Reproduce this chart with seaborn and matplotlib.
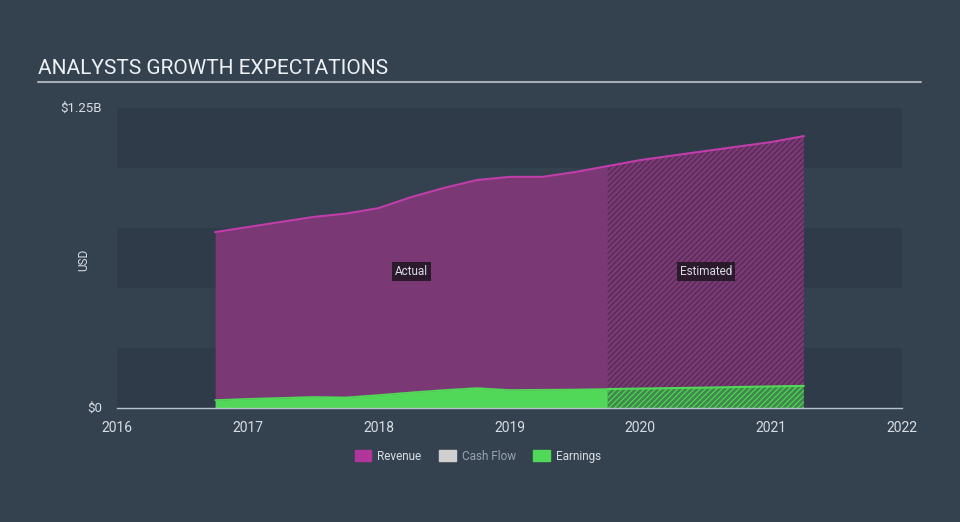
import matplotlib
matplotlib.use("Agg")
import matplotlib.pyplot as plt
import seaborn as sns
import pandas as pd
from matplotlib.patches import Patch

# values in billions USD, x in fractional years
act_years = [2016.75, 2017.0, 2017.25, 2017.5, 2017.75, 2018.0, 2018.25, 2018.5, 2018.75, 2019.0, 2019.25, 2019.5, 2019.75]
act_revenue = [0.733, 0.754, 0.775, 0.796, 0.810, 0.833, 0.879, 0.917, 0.950, 0.963, 0.963, 0.983, 1.008]
act_earnings = [0.033, 0.038, 0.042, 0.046, 0.044, 0.054, 0.065, 0.075, 0.083, 0.075, 0.076, 0.077, 0.079]

est_years = [2019.75, 2020.0, 2020.5, 2021.0, 2021.25]
est_revenue = [1.008, 1.033, 1.071, 1.108, 1.133]
est_earnings = [0.079, 0.081, 0.085, 0.090, 0.092]

year_ticks = [2016, 2017, 2018, 2019, 2020, 2021, 2022]

BG = '#344250'
BAND = '#2f3b49'
REV_FILL = '#7a3874'
REV_LINE = '#c13da9'
EARN = '#52d858'
TXT = '#d8dde3'

sns.set_theme(style='white')
plt.rcParams['font.family'] = ['Roboto', 'DejaVu Sans']
plt.rcParams['hatch.linewidth'] = 0.8

fig = plt.figure(figsize=(9.6, 5.22), dpi=100, facecolor=BG)
ax = fig.add_axes([117/960, 1-408/522, 785/960, 300/522])
ax.set_facecolor(BG)

# alternating bands
for i in range(5):
    if i % 2 == 0:
        ax.axhspan(i*0.25, (i+1)*0.25, color=BAND, lw=0, zorder=0)

act = pd.DataFrame({'year': act_years, 'revenue': act_revenue, 'earnings': act_earnings})
est = pd.DataFrame({'year': est_years, 'revenue': est_revenue, 'earnings': est_earnings})

ax.fill_between(act['year'], 0, act['revenue'], color=REV_FILL, lw=0, zorder=1)
ax.fill_between(act['year'], 0, act['earnings'], color=EARN, lw=0, zorder=2)
ax.fill_between(est['year'], 0, est['revenue'], facecolor=REV_FILL, edgecolor='#4e2a50', hatch='//////', lw=0, zorder=1)
ax.fill_between(est['year'], 0, est['earnings'], facecolor='#3f8a4a', edgecolor='#52d858', hatch='//////', lw=0, zorder=2)

sns.lineplot(data=act, x='year', y='revenue', color=REV_LINE, lw=1.5, ax=ax, zorder=3)
sns.lineplot(data=est, x='year', y='revenue', color=REV_LINE, lw=1.5, ax=ax, zorder=3)
sns.lineplot(data=act, x='year', y='earnings', color=EARN, lw=1.2, ax=ax, zorder=3)
sns.lineplot(data=est, x='year', y='earnings', color=EARN, lw=1.5, ax=ax, zorder=3)

ax.set_xlim(2016, 2022)
ax.set_ylim(0, 1.25)
ax.set_xticks(year_ticks)
ax.set_xticklabels([str(y) for y in year_ticks], color=TXT, fontsize=10)
ax.set_yticks([])
ax.set_xlabel('')
ax.set_ylabel('')
for s in ['top', 'right', 'left']:
    ax.spines[s].set_visible(False)
ax.spines['bottom'].set_color('#b8c0cc')
ax.spines['bottom'].set_linewidth(1)
ax.tick_params(axis='x', colors='#b8c0cc', length=6, width=1, direction='out', pad=3, labelcolor=TXT)

box = dict(boxstyle='square,pad=0.25', fc='#2a1a2c', ec='none')
ax.text(2018.25, 0.57, 'Actual', color=TXT, fontsize=8.5, ha='center', va='center', bbox=box, zorder=5)
ax.text(2020.5, 0.57, 'Estimated', color=TXT, fontsize=8.5, ha='center', va='center', bbox=box, zorder=5)

fig.text(102/960, 1-108/522, '$1.25B', color=TXT, fontsize=9.5, ha='right', va='center')
fig.text(102/960, 1-408/522, '$0', color=TXT, fontsize=9.5, ha='right', va='center')
fig.text(84/960, 1-260/522, 'USD', color=TXT, fontsize=8.5, rotation=90, ha='center', va='center')

fig.text(38/960, 1-68/522, 'ANALYSTS GROWTH EXPECTATIONS', color='#eef1f4', fontsize=15, ha='left', va='center')
fig.add_artist(plt.Line2D([38/960, 921/960], [1-82/522, 1-82/522], color='#a8adb3', lw=1.5))

handles = [Patch(color='#b1359b', label='Revenue'), Patch(color='#cfcfcf', label='Cash Flow'), Patch(color=EARN, label='Earnings')]
leg = fig.legend(handles=handles, loc='center', bbox_to_anchor=(478/960, 1-456/522), ncol=3, frameon=False,
                 fontsize=8.5, handlelength=1.4, handleheight=1.0, columnspacing=1.5, handletextpad=0.5)
for t, c in zip(leg.get_texts(), [TXT, '#9aa3ad', TXT]):
    t.set_color(c)

fig.savefig('out.png', dpi=100, facecolor=BG)
